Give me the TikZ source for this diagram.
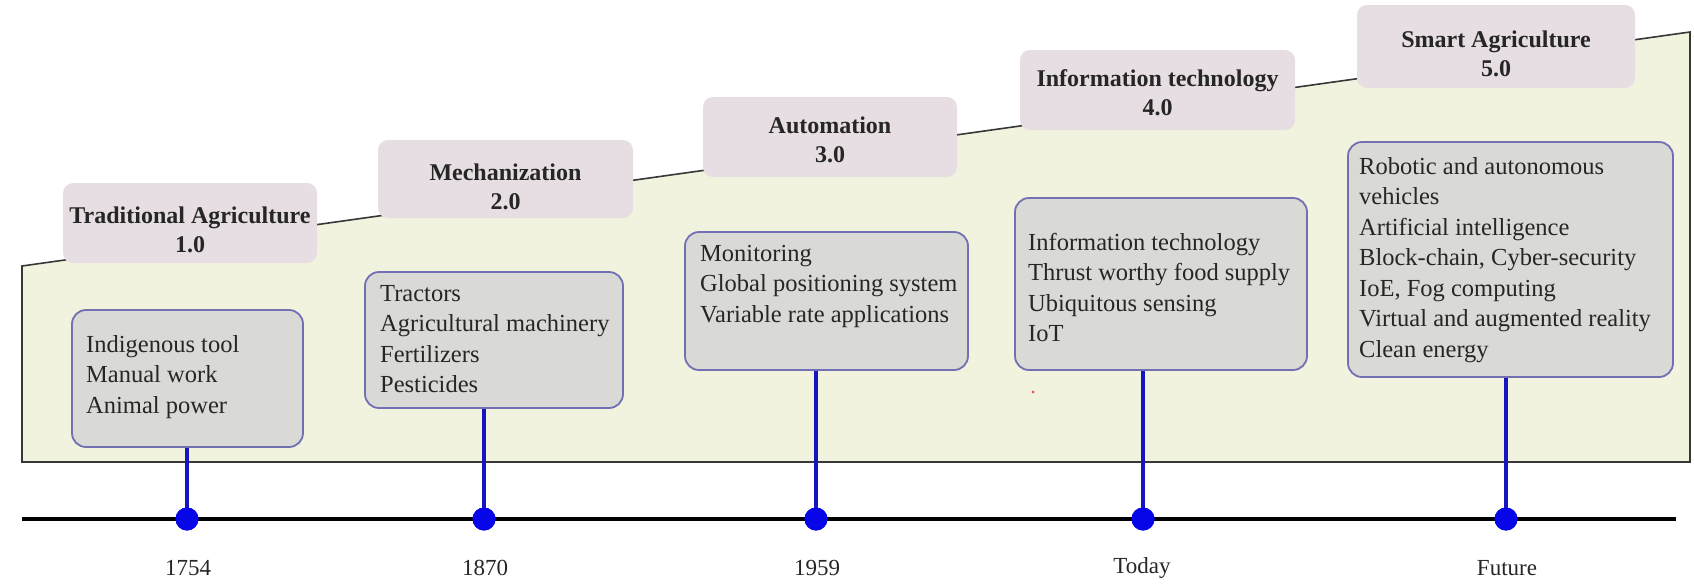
\documentclass[tikz,border=0pt]{standalone}
\usepackage{fontspec}
\setmainfont{Liberation Serif}
\definecolor{fieldfill}{RGB}{242,243,222}
\definecolor{fieldline}{RGB}{55,55,55}
\definecolor{headfill}{RGB}{230,222,226}
\definecolor{cellfill}{RGB}{217,217,214}
\definecolor{celldraw}{RGB}{112,112,178}
\definecolor{stemcol}{RGB}{22,22,190}
\definecolor{dotcol}{RGB}{6,6,232}
\definecolor{textcol}{RGB}{38,38,38}
\begin{document}
\begin{tikzpicture}[x=1pt,y=-1pt,
  field/.style={fill=fieldfill, draw=fieldline, line width=1.6pt, line join=miter},
  hbox/.style={rectangle, rounded corners=10pt, fill=headfill, draw=none, inner sep=0pt},
  htext/.style={font=\fontsize{24}{29}\selectfont\bfseries, align=center, text=textcol, inner sep=0pt},
  cbox/.style={rectangle, rounded corners=14pt, fill=cellfill, draw=celldraw, line width=1.8pt, inner sep=0pt},
  ctext/.style={font=\fontsize{24.5}{30.5}\selectfont, align=left, anchor=north west, inner sep=0pt, text=textcol},
  stem/.style={draw=stemcol, line width=3.2pt},
  dot/.style={circle, fill=dotcol, minimum size=23pt, inner sep=0pt},
  axis/.style={draw=black, line width=4.5pt},
  year/.style={font=\fontsize{23}{26}\selectfont, text=textcol, inner sep=0pt}]
\useasboundingbox (0,0) rectangle (1694,584);

% rising background field
\coordinate (f1) at (22,266);
\coordinate (f2) at (1690,32);
\coordinate (f3) at (1690,462);
\coordinate (f4) at (22,462);
\draw[field] (f1) -- (f2) -- (f3) -- (f4) -- cycle;

% era headers
\node[hbox, minimum width=254pt, minimum height=80pt] (h1) at (190,223) {};
\node[hbox, minimum width=255pt, minimum height=78pt] (h2) at (505.5,179) {};
\node[hbox, minimum width=254pt, minimum height=80pt] (h3) at (830,137) {};
\node[hbox, minimum width=275pt, minimum height=80pt] (h4) at (1157.5,90) {};
\node[hbox, minimum width=278pt, minimum height=83pt] (h5) at (1496,46.5) {};
\node[htext] (ht1) at (190,230) {Traditional Agriculture\\1.0};
\node[htext] (ht2) at (505.5,187) {Mechanization\\2.0};
\node[htext] (ht3) at (830,140) {Automation\\3.0};
\node[htext] (ht4) at (1157.5,93) {Information technology\\4.0};
\node[htext] (ht5) at (1496,54) {Smart Agriculture\\5.0};

% content boxes
\node[cbox, minimum width=231pt, minimum height=137pt] (c1) at (187.5,378.5) {};
\node[cbox, minimum width=258pt, minimum height=136pt] (c2) at (494,340) {};
\node[cbox, minimum width=283pt, minimum height=138pt] (c3) at (826.5,301) {};
\node[cbox, minimum width=292pt, minimum height=172pt] (c4) at (1161,284) {};
\node[cbox, minimum width=325pt, minimum height=235pt] (c5) at (1510.5,259.5) {};

\node[ctext] (t1) at (86,335) {Indigenous tool\\Manual work\\Animal power};
\node[ctext] (t2) at (380,285) {Tractors\\Agricultural machinery\\Fertilizers\\Pesticides};
\node[ctext] (t3) at (700,245) {Monitoring\\Global positioning system\\Variable rate applications};
\node[ctext] (t4) at (1028,233) {Information technology\\Thrust worthy food supply\\Ubiquitous sensing\\IoT};
\node[ctext] (t5) at (1359,157) {Robotic and autonomous\\vehicles\\Artificial intelligence\\Block-chain, Cyber-security\\IoE, Fog computing\\Virtual and augmented reality\\Clean energy};

% timeline axis
\coordinate (a0) at (22,519);
\coordinate (a1) at (1676,519);
\draw[axis] (a0) -- (a1);

% milestones
\node[dot] (d1) at (187,519) {};
\node[dot] (d2) at (484,519) {};
\node[dot] (d3) at (816,519) {};
\node[dot] (d4) at (1143,519) {};
\node[dot] (d5) at (1506,519) {};
\draw[stem] (d1.center) -- (d1 |- c1.south);
\draw[stem] (d2.center) -- (d2 |- c2.south);
\draw[stem] (d3.center) -- (d3 |- c3.south);
\draw[stem] (d4.center) -- (d4 |- c4.south);
\draw[stem] (d5.center) -- (d5 |- c5.south);
\foreach \i in {1,...,5} \fill[dotcol] (d\i) circle (11.5pt);

\node[year] (y1) at (188,568) {1754};
\node[year] (y2) at (485,568) {1870};
\node[year] (y3) at (817,568) {1959};
\node[year] (y4) at (1142,568) {Today};
\node[year] (y5) at (1507,568) {Future};

% small red speck
\fill[red!75] (1033,392) circle (1.5pt);
\end{tikzpicture}
\end{document}
